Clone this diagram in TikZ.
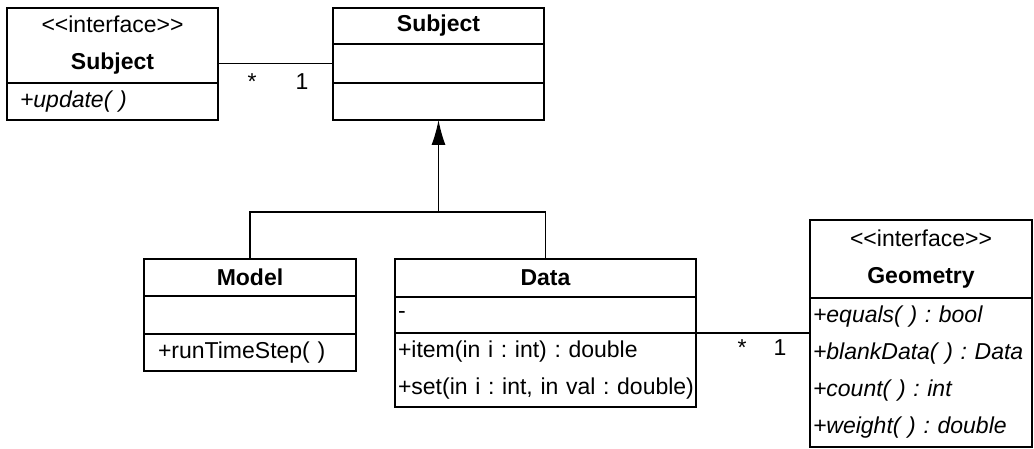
\documentclass[tikz,border=0pt]{standalone}
\usepackage{fontspec}
\usetikzlibrary{positioning,arrows.meta}
\newfontfamily\umlfamily{Liberation Sans}
\newcommand\umlfont{\umlfamily\fontsize{11.5}{18.5}\selectfont\frenchspacing}

\begin{document}
\begin{tikzpicture}[x=0.5pt, y=-0.5pt,
    box/.style={draw, line width=0.9pt, inner ysep=0pt, outer sep=0pt, anchor=north west, font=\umlfont},
    head/.style={box, align=center, inner xsep=0pt},
    ops/.style={box, align=left},
    mult/.style={anchor=base, inner sep=0pt, font=\umlfont},
    link/.style={line width=0.6pt}]
    \useasboundingbox (0,0) rectangle (1034,449);

    \node[head, text width=105.5pt, minimum height=37.5pt] (isubj-t) at (7,8) {<<interface>>\\\textbf{Subject}};
    \node[ops, below=0pt of isubj-t, text width=92.5pt, inner xsep=6.5pt, minimum height=18.5pt] (isubj-o) {\textit{+update( )}};

    \node[head, text width=105.5pt, minimum height=18pt] (subj-t) at (333,8) {\textbf{Subject}};
    \node[box, below=0pt of subj-t, minimum width=105.5pt, minimum height=19.5pt] (subj-a) {};
    \node[box, below=0pt of subj-a, minimum width=105.5pt, minimum height=18.5pt] (subj-o) {};

    \node[head, text width=106pt, minimum height=18.5pt] (model-t) at (144,259) {\textbf{Model}};
    \node[box, below=0pt of model-t, minimum width=106pt, minimum height=19pt] (model-a) {};
    \node[ops, below=0pt of model-a, text width=92pt, inner xsep=7pt, minimum height=18.5pt] (model-o) {+runTimeStep( )};

    \node[head, text width=150.5pt, minimum height=19pt] (data-t) at (395,259) {\textbf{Data}};
    \node[ops, below=0pt of data-t, text width=147.5pt, inner xsep=1.5pt, minimum height=18pt] (data-a) {-};
    \node[ops, below=0pt of data-a, text width=147.5pt, inner xsep=1.5pt, minimum height=37pt] (data-o)
        {\mbox{+item(in i : int) : double}\\\mbox{+set(in i : int, in val : double)}};

    \node[head, text width=111pt, minimum height=39pt] (geom-t) at (810,220) {<<interface>>\\\textbf{Geometry}};
    \node[ops, below=0pt of geom-t, text width=108pt, inner xsep=1.5pt, minimum height=74.5pt] (geom-o)
        {\mbox{\itshape +equals( ) : bool}\\\mbox{\itshape +blankData( ) : Data}\\\mbox{\itshape +count( ) : int}\\\mbox{\itshape +weight( ) : double}};

    \draw[link] (subj-a.west) -- (subj-a.west -| isubj-t.east);
    \node[mult] (m1) at (252,90) {*};
    \node[mult] (o1) at (302,90) {1};

    \coordinate (junc) at (subj-o.south |- 0,212);
    \draw[link] (model-t.north) |- (junc) -| (data-t.north);
    \draw[link, -{Latex[length=12.5pt, width=7pt]}] (junc) -- (subj-o.south);

    \draw[link] (data-o.north east) -- (data-o.north east -| geom-o.west);
    \node[mult] (m2) at (742,355) {*};
    \node[mult] (o2) at (780,355) {1};
\end{tikzpicture}
\end{document}
